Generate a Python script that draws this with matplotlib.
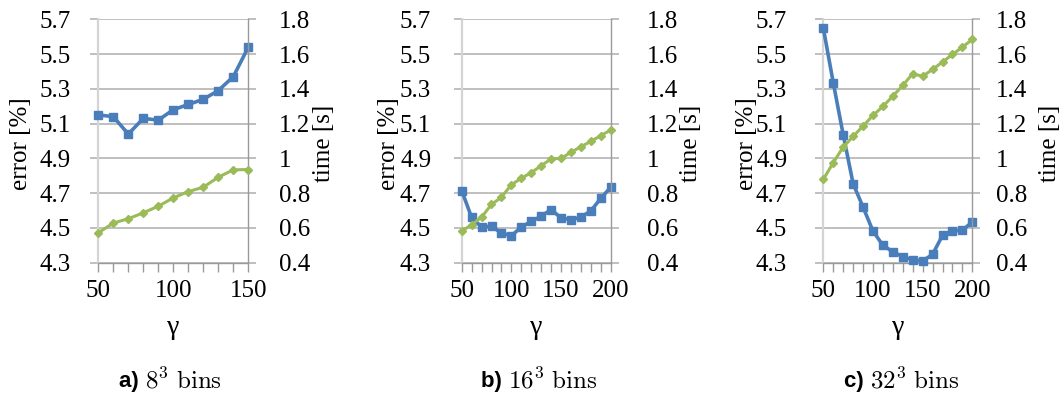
import matplotlib
matplotlib.use("Agg")
import matplotlib.pyplot as plt

# gamma values
gamma_a = [50, 60, 70, 80, 90, 100, 110, 120, 130, 140, 150]
gamma_bc = [50, 60, 70, 80, 90, 100, 110, 120, 130, 140, 150, 160, 170, 180, 190, 200]

# error [%] (left axis)
error_a = [5.15, 5.14, 5.04, 5.13, 5.12, 5.18, 5.21, 5.24, 5.29, 5.37, 5.54]
error_b = [4.715, 4.56, 4.505, 4.51, 4.47, 4.455, 4.505, 4.537, 4.568, 4.605, 4.558,
           4.547, 4.562, 4.598, 4.67, 4.734]
error_c = [5.65, 5.336, 5.037, 4.755, 4.62, 4.482, 4.40, 4.363, 4.334, 4.317, 4.31,
           4.348, 4.457, 4.482, 4.486, 4.535]

# time [s] (right axis)
time_a = [0.572, 0.628, 0.653, 0.687, 0.725, 0.773, 0.809, 0.834, 0.892, 0.934, 0.936]
time_b = [0.582, 0.618, 0.662, 0.735, 0.777, 0.848, 0.886, 0.918, 0.958, 0.997, 1.0,
          1.035, 1.067, 1.098, 1.131, 1.163]
time_c = [0.879, 0.975, 1.065, 1.126, 1.186, 1.247, 1.299, 1.358, 1.42, 1.487, 1.472,
          1.512, 1.554, 1.598, 1.64, 1.684]

err_ticks = [4.3, 4.5, 4.7, 4.9, 5.1, 5.3, 5.5, 5.7]
err_labels = ["4.3", "4.5", "4.7", "4.9", "5.1", "5.3", "5.5", "5.7"]
time_ticks = [0.4, 0.6, 0.8, 1.0, 1.2, 1.4, 1.6, 1.8]
time_labels = ["0.4", "0.6", "0.8", "1", "1.2", "1.4", "1.6", "1.8"]

panel_letters = ["a)", "b)", "c)"]
panel_bins = [r"$8^3\ \mathrm{bins}$", r"$16^3\ \mathrm{bins}$", r"$32^3\ \mathrm{bins}$"]

plt.rcParams['mathtext.fontset'] = 'cm'
plt.rcParams['font.family'] = ['Liberation Serif', 'DejaVu Serif']

BLUE = '#4a7ebb'
GREEN = '#9bbb59'
GRID = '#b4b4b4'

W, H = 1064, 398
fig = plt.figure(figsize=(W / 100, H / 100), dpi=100)

# left, right edge in pixels; label pads (pt); ylabel centres (px)
boxes = [(98.3, 248.3), (461.7, 610.7), (823.3, 972.3)]
left_pads = [14, 16, 20]
right_pads = [16, 20, 11]
ylab_left = [21, 389, 747]
ylab_right = [324, 691, 1050]
top_px, bot_px = 19.3, 262.7

panels = [(gamma_a, error_a, time_a), (gamma_bc, error_b, time_b), (gamma_bc, error_c, time_c)]

for i, (g, err, tm) in enumerate(panels):
    l, r = boxes[i]
    ax = fig.add_axes([l / W, (H - bot_px) / H, (r - l) / W, (bot_px - top_px) / H])
    ax2 = ax.twinx()

    ax.plot(g, err, color=BLUE, lw=2.6, marker='s', ms=5.5, clip_on=False, zorder=3)
    ax2.plot(g, tm, color=GREEN, lw=2.2, marker='D', ms=4, clip_on=False, zorder=3)

    ax.set_xlim(g[0], g[-1])
    ax.set_ylim(4.3, 5.7)
    ax2.set_ylim(0.4, 1.8)

    ax.set_yticks(err_ticks)
    ax.set_yticklabels(err_labels)
    ax2.set_yticks(time_ticks)
    ax2.set_yticklabels(time_labels)

    ax.set_xticks(g)
    ax.set_xticklabels([str(v) if v % 50 == 0 else "" for v in g])

    ax.grid(axis='y', color=GRID, lw=1.2)
    ax.set_axisbelow(True)

    for a in (ax, ax2):
        for s in a.spines.values():
            s.set_visible(False)
    ax.spines['left'].set_visible(True)
    ax.spines['left'].set_color('#d4d4d4')
    ax.spines['left'].set_linewidth(1.6)
    ax.spines['bottom'].set_visible(True)
    ax.spines['bottom'].set_color('#9a9a9a')
    ax.spines['bottom'].set_linewidth(1.0)
    ax2.spines['right'].set_visible(True)
    ax2.spines['right'].set_color('#9a9a9a')
    ax2.spines['right'].set_linewidth(1.0)

    ax.tick_params(axis='y', direction='out', length=6, width=1.2, color=GRID,
                   labelsize=18, pad=left_pads[i])
    ax2.tick_params(axis='y', direction='out', length=6, width=1.2, color=GRID,
                    labelsize=18, pad=right_pads[i])
    ax.tick_params(axis='x', direction='out', length=6.5, width=1.0, color='#9a9a9a',
                   labelsize=18, pad=6)

    ax.set_ylabel("error [%]", fontsize=18, va='center')
    ax2.set_ylabel("time [s]", fontsize=18, va='center')
    ax.yaxis.set_label_coords((ylab_left[i] - l) / (r - l), 0.49)
    ax2.yaxis.set_label_coords((ylab_right[i] - l) / (r - l), 0.49)
    ax.set_xlabel("γ", fontsize=20, va='center')
    ax.xaxis.set_label_coords(0.5, (bot_px - 327) / (bot_px - top_px))

    split = ((l + r) / 2 - 28) / W
    fig.text(split, (H - 381) / H, panel_letters[i] + " ", ha='right', va='center',
             fontsize=16, fontweight='bold', family=['Liberation Sans', 'DejaVu Sans'])
    fig.text(split, (H - 381) / H, panel_bins[i], ha='left', va='center', fontsize=18)

fig.savefig("out.png", dpi=100)
